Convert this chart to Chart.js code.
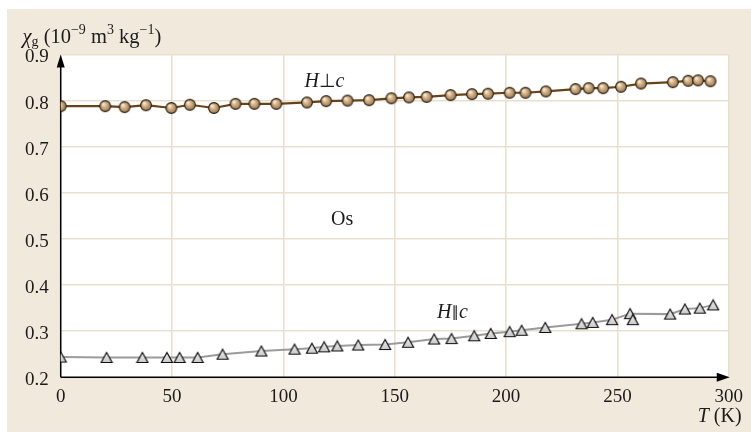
<!DOCTYPE html>
<html>
<head>
<meta charset="utf-8">
<script src="https://cdn.jsdelivr.net/npm/chart.js@4.4.1/dist/chart.umd.min.js"></script>
<style>
  html, body { margin: 0; padding: 0; background: #fff; }
  #marco { position: absolute; left: 7px; top: 9px; right: 0; bottom: 1px; background: #f2e9dd; }
  #grafico { position: absolute; left: 0; top: 0; }
</style>
</head>
<body>
<div id="marco"></div>
<canvas id="grafico" width="751" height="433"></canvas>
<script>
// Susceptibilidad del osmio: H perpendicular a c (círculos) y H paralelo a c (triángulos)
const tempPerp = [0, 20, 28.7, 38.3, 49.7, 58, 68.8, 78.5, 87, 96.8, 110.6, 119.2, 128.8, 138.5, 148.5, 156.4,
  164.3, 175.1, 184.7, 191.9, 201.6, 208.7, 217.9, 231.2, 237.1, 243.6, 251.6, 260.6, 274.9, 281.8, 286.2, 291.8];
const chiPerp = [0.788, 0.788, 0.786, 0.790, 0.784, 0.791, 0.784, 0.793, 0.793, 0.793, 0.796, 0.799, 0.800, 0.801, 0.805, 0.807,
  0.808, 0.812, 0.814, 0.815, 0.817, 0.817, 0.820, 0.825, 0.827, 0.827, 0.830, 0.837, 0.840, 0.843, 0.844, 0.842];

const tempPar = [0, 20.6, 36.7, 47.7, 53.4, 61.5, 72.7, 90.1, 105.0, 112.8, 118.3, 124.2, 133.6, 145.7, 156.0, 167.7,
  175.5, 185.7, 193.1, 201.6, 207.0, 217.6, 233.9, 238.9, 247.6, 255.7, 256.9, 273.7, 280.3, 287.0, 293.0];
const chiPar = [0.244, 0.243, 0.243, 0.243, 0.243, 0.243, 0.250, 0.257, 0.261, 0.263, 0.266, 0.268, 0.270, 0.271, 0.276, 0.283,
  0.284, 0.290, 0.295, 0.299, 0.302, 0.308, 0.316, 0.319, 0.325, 0.338, 0.325, 0.337, 0.348, 0.350, 0.357];
// puntos paralelos que la curva guía no une
const fueraDeCurva = [26];

const ticksT = [0, 50, 100, 150, 200, 250, 300];
const ticksChi = [0.2, 0.3, 0.4, 0.5, 0.6, 0.7, 0.8, 0.9];

const SERIF = '"Liberation Serif", "Times New Roman", serif';
const colorGrilla = "#eadfcf";
const colorTexto = "#1b1b1b";

function aPuntos(xs, ys) {
  return xs.map((x, i) => ({ x, y: ys[i] }));
}

function crearEsfera(radio) {
  const lado = Math.ceil(radio * 2 + 3);
  const lienzo = document.createElement("canvas");
  lienzo.width = lado;
  lienzo.height = lado;
  const c = lienzo.getContext("2d");
  const centro = lado / 2;
  const degradado = c.createRadialGradient(centro - radio * 0.35, centro - radio * 0.4, radio * 0.1, centro, centro, radio);
  degradado.addColorStop(0, "#f5ead6");
  degradado.addColorStop(0.45, "#cfae84");
  degradado.addColorStop(1, "#9a7448");
  c.beginPath();
  c.arc(centro, centro, radio, 0, Math.PI * 2);
  c.fillStyle = degradado;
  c.fill();
  c.lineWidth = 1.1;
  c.strokeStyle = "#2a2016";
  c.stroke();
  return lienzo;
}

function crearTriangulo(ancho, alto) {
  const lienzo = document.createElement("canvas");
  lienzo.width = Math.ceil(ancho + 3);
  lienzo.height = Math.ceil(alto + 3);
  const c = lienzo.getContext("2d");
  const cx = lienzo.width / 2;
  const arriba = (lienzo.height - alto) / 2;
  const degradado = c.createLinearGradient(0, arriba, 0, arriba + alto);
  degradado.addColorStop(0, "#f0f0f0");
  degradado.addColorStop(1, "#c9c9c9");
  c.beginPath();
  c.moveTo(cx, arriba);
  c.lineTo(cx + ancho / 2, arriba + alto);
  c.lineTo(cx - ancho / 2, arriba + alto);
  c.closePath();
  c.fillStyle = degradado;
  c.fill();
  c.lineWidth = 1.2;
  c.lineJoin = "miter";
  c.strokeStyle = "#111";
  c.stroke();
  return lienzo;
}

function escribirPartes(ctx, x, y, partes) {
  partes.forEach(([texto, fuente, dy]) => {
    ctx.font = fuente;
    ctx.fillText(texto, x, y + dy);
    x += ctx.measureText(texto).width;
  });
}

const pluginFondo = {
  id: "fondo",
  beforeDraw(chart) {
    const { ctx, chartArea: a } = chart;
    ctx.save();
    ctx.fillStyle = "#ffffff";
    ctx.fillRect(a.left, a.top, a.right - a.left, a.bottom - a.top);
    ctx.restore();
  },
};

const pluginEjes = {
  id: "ejes",
  beforeDatasetsDraw(chart) {
    const { ctx, chartArea: a } = chart;
    ctx.save();
    ctx.strokeStyle = "#000";
    ctx.fillStyle = "#000";
    ctx.lineWidth = 1.5;
    ctx.beginPath();
    ctx.moveTo(a.left, a.bottom);
    ctx.lineTo(a.left, a.top + 8);
    ctx.moveTo(a.left, a.bottom);
    ctx.lineTo(a.right - 8, a.bottom);
    ctx.stroke();
    // puntas de flecha
    ctx.beginPath();
    ctx.moveTo(a.left, a.top);
    ctx.lineTo(a.left + 4, a.top + 13);
    ctx.lineTo(a.left - 4, a.top + 13);
    ctx.closePath();
    ctx.fill();
    ctx.beginPath();
    ctx.moveTo(a.right + 1, a.bottom);
    ctx.lineTo(a.right - 12, a.bottom - 4.5);
    ctx.lineTo(a.right - 12, a.bottom + 4.5);
    ctx.closePath();
    ctx.fill();
    ctx.restore();
  },
};

const pluginTextos = {
  id: "textos",
  afterDraw(chart) {
    const { ctx, chartArea: a, scales } = chart;
    const px = (t) => scales.x.getPixelForValue(t);
    const py = (v) => scales.y.getPixelForValue(v);
    ctx.save();
    ctx.fillStyle = colorTexto;
    ctx.textBaseline = "alphabetic";
    ctx.textAlign = "left";

    const grande = `20.5px ${SERIF}`;
    const chico = `14px ${SERIF}`;
    escribirPartes(ctx, 22.5, 42.5, [
      ["χ", `italic 20.5px ${SERIF}`, 0],
      ["g", chico, 3],
      [" (10", grande, 0],
      ["−9", chico, -8.5],
      [" m", grande, 0],
      ["3", chico, -8.5],
      [" kg", grande, 0],
      ["−1", chico, -8.5],
      [")", grande, 0],
    ]);

    escribirPartes(ctx, a.right - 31, 422, [
      ["T", `italic 20px ${SERIF}`, 0],
      [" (K)", `20px ${SERIF}`, 0],
    ]);

    ctx.textBaseline = "middle";
    escribirPartes(ctx, px(109.5), py(0.841), [
      ["H", `italic 20px ${SERIF}`, 0],
      ["⊥", `19px "DejaVu Sans", ${SERIF}`, 0],
      ["c", `italic 20px ${SERIF}`, 0],
    ]);
    escribirPartes(ctx, px(169), py(0.339), [
      ["H", `italic 20px ${SERIF}`, 0],
      ["∥", `15px "DejaVu Sans", ${SERIF}`, 0],
      ["c", `italic 20px ${SERIF}`, 0],
    ]);
    ctx.font = `20px ${SERIF}`;
    ctx.fillText("Os", px(121.4), py(0.541));
    ctx.restore();
  },
};

const esfera = crearEsfera(5.4);
const triangulo = crearTriangulo(11, 10);

new Chart(document.querySelector("#grafico"), {
  type: "scatter",
  data: {
    datasets: [
      {
        label: "H⊥c",
        data: aPuntos(tempPerp, chiPerp),
        showLine: true,
        borderColor: "#6a4218",
        borderWidth: 2.2,
        pointStyle: esfera,
        order: 1,
      },
      {
        label: "H∥c curva",
        data: aPuntos(tempPar, chiPar).filter((_, i) => !fueraDeCurva.includes(i)),
        showLine: true,
        borderColor: "#9b9b9b",
        borderWidth: 2,
        pointRadius: 0,
        order: 3,
      },
      {
        label: "H∥c",
        data: aPuntos(tempPar, chiPar),
        showLine: false,
        pointStyle: triangulo,
        order: 2,
      },
    ],
  },
  options: {
    responsive: false,
    animation: false,
    layout: { padding: { left: 0, top: 54.5, right: 20.3, bottom: 0 } },
    plugins: { legend: { display: false }, tooltip: { enabled: false } },
    scales: {
      x: {
        type: "linear",
        min: 0,
        max: 300,
        afterBuildTicks: (eje) => { eje.ticks = ticksT.map((value) => ({ value })); },
        afterFit: (eje) => { eje.height = 55.7; },
        grid: { color: colorGrilla, lineWidth: 1.6, drawTicks: false },
        border: { display: false },
        ticks: { padding: 8, color: colorTexto, font: { family: SERIF, size: 19 }, maxRotation: 0 },
      },
      y: {
        type: "linear",
        min: 0.2,
        max: 0.9,
        afterBuildTicks: (eje) => { eje.ticks = ticksChi.map((value) => ({ value })); },
        afterFit: (eje) => { eje.width = 60.7; },
        grid: { color: colorGrilla, lineWidth: 1.6, drawTicks: false },
        border: { display: false },
        ticks: { padding: 12, labelOffset: 3, color: colorTexto, font: { family: SERIF, size: 19 }, callback: (v) => v.toFixed(1) },
      },
    },
  },
  plugins: [pluginFondo, pluginEjes, pluginTextos],
});
</script>
</body>
</html>
